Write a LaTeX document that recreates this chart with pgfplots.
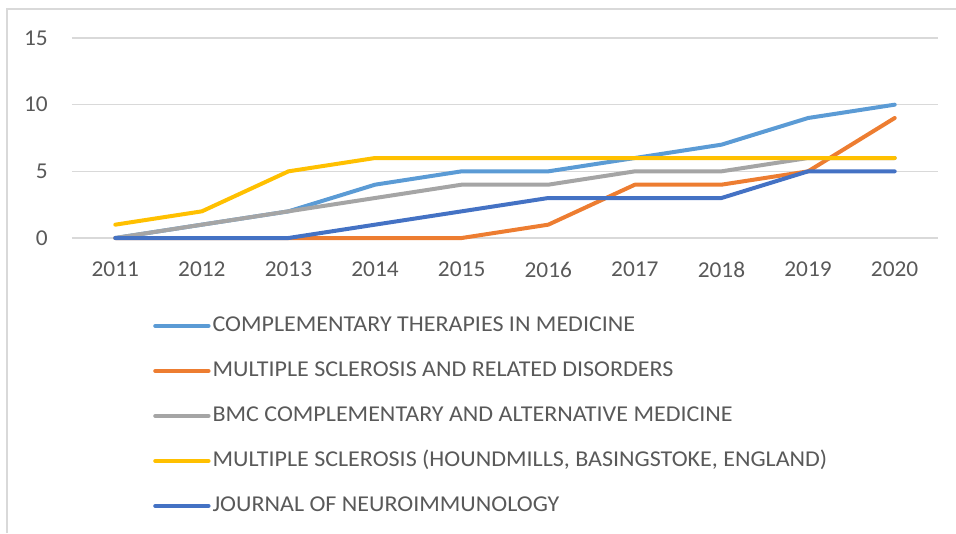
\documentclass[border=0pt]{standalone}
\usepackage{fontspec}
\setmainfont{Carlito}
\newfontfamily\wide{Carlito}[FakeStretch=1.06]
\newfontfamily\tickf{Carlito}[FakeStretch=1.03]
\usepackage{pgfplots}
\pgfplotsset{compat=1.18}
\definecolor{cLB}{HTML}{5B9BD5}
\definecolor{cOR}{HTML}{ED7D31}
\definecolor{cGR}{HTML}{A5A5A5}
\definecolor{cYE}{HTML}{FFC000}
\definecolor{cDB}{HTML}{4472C4}
\definecolor{textc}{HTML}{595959}
\definecolor{gridc}{HTML}{D9D9D9}
\begin{document}
\begin{tikzpicture}
\useasboundingbox (0,0) rectangle (717pt,399.75pt);
\draw[gridc, line width=0.9pt] (5.25pt,0pt) -- (5.25pt,393pt) -- (717pt,393pt);
\begin{axis}[
  at={(54pt,221.25pt)}, anchor=south west,
  scale only axis, width=649.5pt, height=150pt,
  xmin=2010.5, xmax=2020.5, ymin=0, ymax=15,
  xtick={2011,...,2020}, ytick={0,5,10,15},
  axis line style={draw=none},
  ymajorgrids, grid style={gridc, line width=0.9pt},
  major tick length=0pt,
  /pgf/number format/assume math mode=true,
  /pgf/number format/1000 sep={},
  tick label style={font=\tickf\fontsize{17}{20}\selectfont, text=textc, inner sep=0pt},
  xticklabel style={anchor=north, yshift=-18pt},
  yticklabel style={anchor=east, xshift=-18pt},
  clip=false,
  every axis plot/.append style={line width=3pt, line cap=round, line join=round},
  legend cell align=left,
  legend style={at={(0.0935,-0.375)}, anchor=north west, draw=none, fill=none,
    font=\wide\fontsize{17}{20}\selectfont, text=textc, row sep=14.75pt, inner sep=0pt,
    nodes={inner sep=1.5pt, text height=12pt, text depth=4pt}},
  legend image code/.code={\draw[line width=3pt, line cap=round] (0pt,0pt) -- (40pt,0pt);},
]
\addplot[cLB] coordinates {(2011,0)(2012,1)(2013,2)(2014,4)(2015,5)(2016,5)(2017,6)(2018,7)(2019,9)(2020,10)};
\addlegendentry{COMPLEMENTARY THERAPIES IN MEDICINE}
\addplot[cOR] coordinates {(2011,0)(2012,0)(2013,0)(2014,0)(2015,0)(2016,1)(2017,4)(2018,4)(2019,5)(2020,9)};
\addlegendentry{MULTIPLE SCLEROSIS AND RELATED DISORDERS}
\addplot[cGR] coordinates {(2011,0)(2012,1)(2013,2)(2014,3)(2015,4)(2016,4)(2017,5)(2018,5)(2019,6)(2020,6)};
\addlegendentry{BMC COMPLEMENTARY AND ALTERNATIVE MEDICINE}
\addplot[cYE] coordinates {(2011,1)(2012,2)(2013,5)(2014,6)(2015,6)(2016,6)(2017,6)(2018,6)(2019,6)(2020,6)};
\addlegendentry{MULTIPLE SCLEROSIS (HOUNDMILLS, BASINGSTOKE, ENGLAND)}
\addplot[cDB] coordinates {(2011,0)(2012,0)(2013,0)(2014,1)(2015,2)(2016,3)(2017,3)(2018,3)(2019,5)(2020,5)};
\addlegendentry{JOURNAL OF NEUROIMMUNOLOGY}
\end{axis}
\end{tikzpicture}
\end{document}
